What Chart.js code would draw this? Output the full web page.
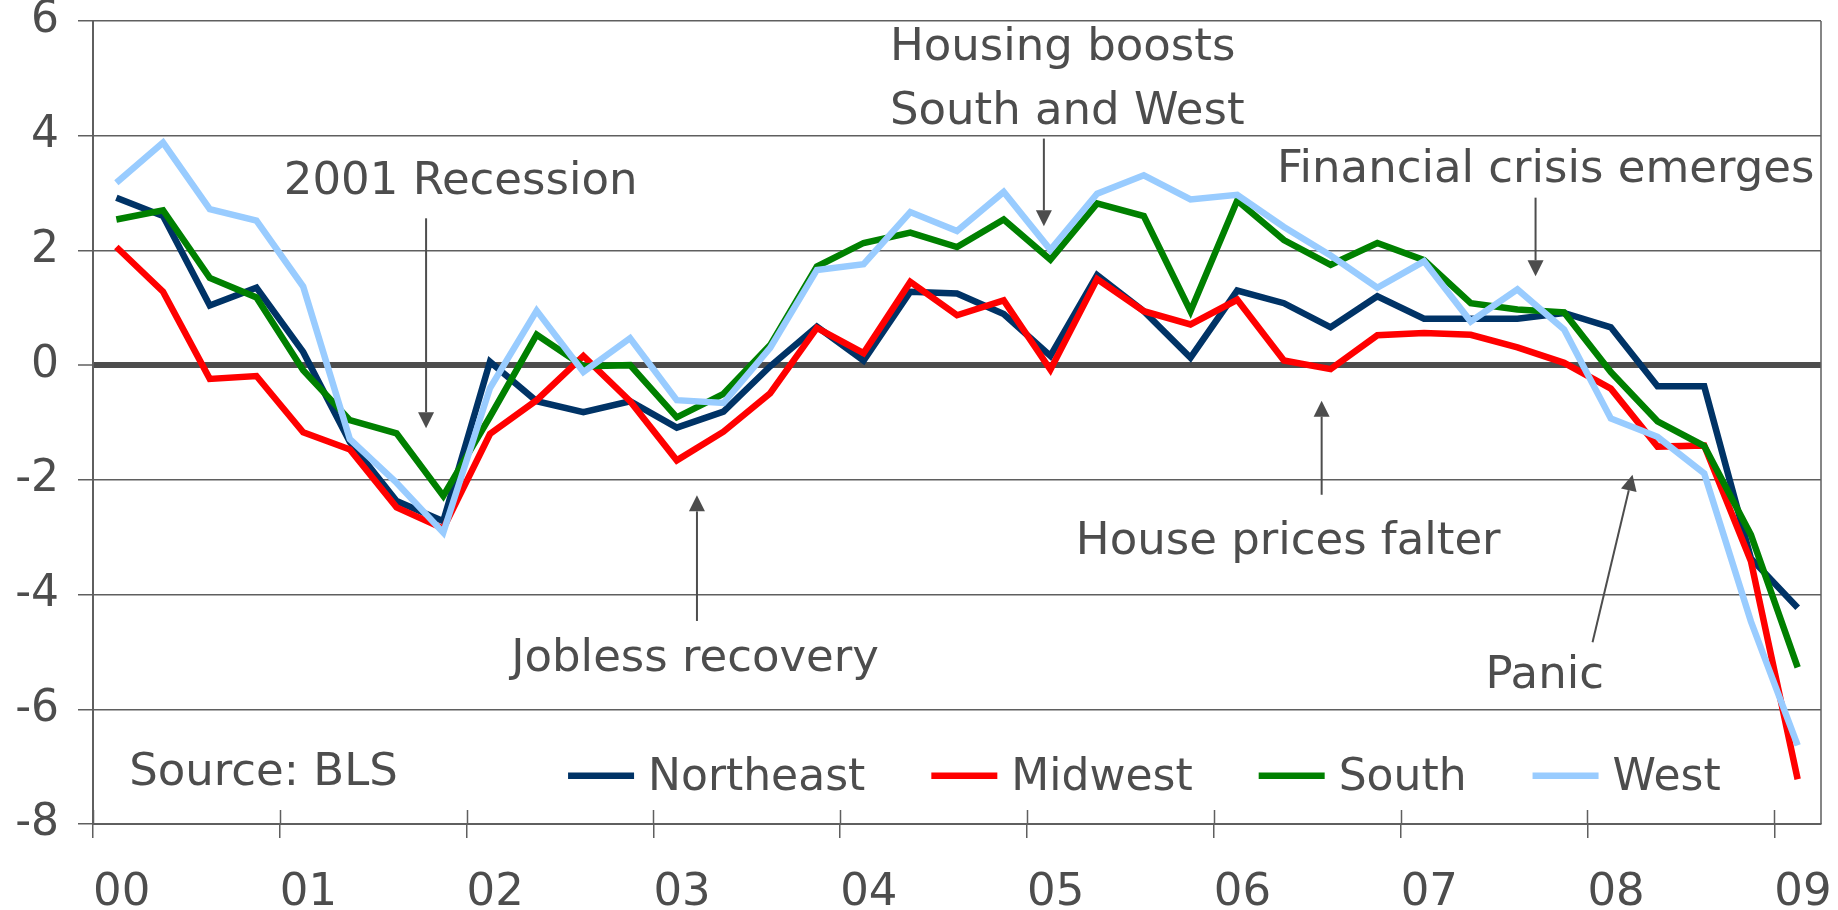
<!DOCTYPE html>
<html>
<head>
<meta charset="utf-8">
<title>Payroll employment by region</title>
<script src="https://cdn.jsdelivr.net/npm/chart.js@4.4.1/dist/chart.umd.min.js"></script>
<style>
  html, body { margin: 0; padding: 0; background: #fff; }
  #wrap { width: 1838px; height: 910px; position: relative; }
</style>
</head>
<body>
<div id="wrap"><canvas id="regionChart"></canvas></div>
<script>
// Payroll employment growth by region, quarterly (%)
const quarters = [
  '2000Q1', '2000Q2', '2000Q3', '2000Q4', '2001Q1', '2001Q2', '2001Q3', '2001Q4',
  '2002Q1', '2002Q2', '2002Q3', '2002Q4', '2003Q1', '2003Q2', '2003Q3', '2003Q4',
  '2004Q1', '2004Q2', '2004Q3', '2004Q4', '2005Q1', '2005Q2', '2005Q3', '2005Q4',
  '2006Q1', '2006Q2', '2006Q3', '2006Q4', '2007Q1', '2007Q2', '2007Q3', '2007Q4',
  '2008Q1', '2008Q2', '2008Q3', '2008Q4', '2009Q1'
];
const yearLabels = ['00', '01', '02', '03', '04', '05', '06', '07', '08', '09'];

const northeast = [
  2.92, 2.60, 1.04, 1.35, 0.23, -1.34, -2.37, -2.72,
  0.06, -0.63, -0.82, -0.63, -1.09, -0.81, -0.02, 0.67,
  0.08, 1.28, 1.25, 0.89, 0.16, 1.57, 0.94, 0.13,
  1.30, 1.08, 0.66, 1.20, 0.81, 0.81, 0.81, 0.91,
  0.66, -0.37, -0.37, -3.37, -4.23
];
const midwest = [
  2.06, 1.28, -0.24, -0.19, -1.17, -1.47, -2.48, -2.85,
  -1.20, -0.61, 0.16, -0.63, -1.66, -1.16, -0.49, 0.65,
  0.21, 1.45, 0.87, 1.13, -0.08, 1.50, 0.94, 0.71,
  1.14, 0.08, -0.07, 0.52, 0.56, 0.53, 0.31, 0.04,
  -0.41, -1.42, -1.40, -3.42, -7.22
];
const south = [
  2.54, 2.70, 1.52, 1.18, -0.09, -0.96, -1.19, -2.28,
  -0.90, 0.53, -0.02, 0.00, -0.91, -0.50, 0.35, 1.72,
  2.13, 2.31, 2.06, 2.54, 1.84, 2.82, 2.60, 0.94,
  2.87, 2.18, 1.75, 2.13, 1.83, 1.08, 0.97, 0.92,
  -0.12, -0.98, -1.41, -2.96, -5.27
];
const west = [
  3.18, 3.88, 2.72, 2.52, 1.37, -1.29, -2.05, -2.92,
  -0.40, 0.95, -0.12, 0.47, -0.61, -0.66, 0.30, 1.66,
  1.76, 2.67, 2.34, 3.02, 2.01, 2.99, 3.31, 2.89,
  2.97, 2.41, 1.91, 1.35, 1.81, 0.76, 1.32, 0.62,
  -0.93, -1.25, -1.89, -4.47, -6.63
];

// text notes and arrows, placed in chart units (years since 2000, %)
const notes = [
  { lines: ['2001 Recession'], x: 1.968, y: 2.98, align: 'center' },
  { lines: ['Jobless recovery'], x: 3.223, y: -5.33, align: 'center' },
  { lines: ['Housing boosts', 'South and West'], x: 4.266, y: 5.32, align: 'left' },
  { lines: ['Financial crisis emerges'], x: 7.776, y: 3.20, align: 'center' },
  { lines: ['House prices falter'], x: 6.398, y: -3.30, align: 'center' },
  { lines: ['Panic'], x: 7.771, y: -5.63, align: 'center' },
  { lines: ['Source: BLS'], x: 0.194, y: -7.32, align: 'left' }
];
const arrows = [
  { from: [1.783, 2.56], to: [1.783, -1.10] },
  { from: [3.233, -4.46], to: [3.233, -2.27] },
  { from: [5.090, 3.95], to: [5.090, 2.42] },
  { from: [7.722, 2.92], to: [7.722, 1.55] },
  { from: [6.577, -2.26], to: [6.577, -0.62] },
  { from: [8.027, -4.83], to: [8.241, -1.91] }
];

const textColor = '#4d4d4d';
const gridColor = '#5f5f5f';
const fontFamily = '"DejaVu Sans", Verdana, sans-serif';

Chart.defaults.font.family = fontFamily;
Chart.defaults.color = textColor;

// quarter label -> position in years after 2000 (middle of the quarter)
const quarterPos = quarters.map(q => Number(q.slice(0, 4)) - 2000 + (Number(q.slice(5)) - 0.5) / 4);
const toPoints = values => values.map((v, i) => ({ x: quarterPos[i], y: v }));

const decorations = {
  id: 'decorations',
  beforeDatasetsDraw(chart) {
    const { ctx, chartArea: a, scales: { x } } = chart;
    ctx.save();
    ctx.strokeStyle = gridColor;
    ctx.lineWidth = 1.5;
    ctx.beginPath();
    ctx.moveTo(a.right, a.top);
    ctx.lineTo(a.right, a.bottom);
    // year ticks also poke up into the plot
    x.ticks.forEach(t => {
      const px = Math.round(x.getPixelForValue(t.value)) + 0.5;
      ctx.moveTo(px, a.bottom);
      ctx.lineTo(px, a.bottom - 14);
    });
    ctx.stroke();
    ctx.restore();
  },
  afterDatasetsDraw(chart) {
    const { ctx, scales: { x, y } } = chart;
    ctx.save();

    // arrows
    ctx.strokeStyle = textColor;
    ctx.fillStyle = textColor;
    ctx.lineWidth = 2;
    arrows.forEach(ar => {
      const x1 = x.getPixelForValue(ar.from[0]), y1 = y.getPixelForValue(ar.from[1]);
      const x2 = x.getPixelForValue(ar.to[0]), y2 = y.getPixelForValue(ar.to[1]);
      const ang = Math.atan2(y2 - y1, x2 - x1);
      const headLen = 16, headHalf = 8;
      ctx.beginPath();
      ctx.moveTo(x1, y1);
      ctx.lineTo(x2 - Math.cos(ang) * headLen, y2 - Math.sin(ang) * headLen);
      ctx.stroke();
      ctx.beginPath();
      ctx.moveTo(x2, y2);
      ctx.lineTo(x2 - Math.cos(ang) * headLen - Math.sin(ang) * headHalf, y2 - Math.sin(ang) * headLen + Math.cos(ang) * headHalf);
      ctx.lineTo(x2 - Math.cos(ang) * headLen + Math.sin(ang) * headHalf, y2 - Math.sin(ang) * headLen - Math.cos(ang) * headHalf);
      ctx.closePath();
      ctx.fill();
    });

    // notes
    ctx.font = '45px ' + fontFamily;
    ctx.textBaseline = 'alphabetic';
    notes.forEach(n => {
      ctx.textAlign = n.align;
      const px = x.getPixelForValue(n.x);
      const py = y.getPixelForValue(n.y);
      n.lines.forEach((line, i) => ctx.fillText(line, px, py + i * 64));
    });

    // legend, inside the plot along the bottom
    ctx.font = '44px ' + fontFamily;
    ctx.textAlign = 'left';
    ctx.textBaseline = 'middle';
    let lx = x.getPixelForValue(2.543);
    const ly = y.getPixelForValue(-7.16);
    chart.data.datasets.forEach(ds => {
      ctx.strokeStyle = ds.borderColor;
      ctx.lineWidth = 6.5;
      ctx.beginPath();
      ctx.moveTo(lx, ly);
      ctx.lineTo(lx + 66, ly);
      ctx.stroke();
      ctx.fillStyle = textColor;
      ctx.fillText(ds.label, lx + 80, ly + 3);
      lx += 80 + ctx.measureText(ds.label).width + 66;
    });

    ctx.restore();
  }
};

const ctx = document.getElementById('regionChart').getContext('2d');
const regionChart = new Chart(ctx, {
  type: 'line',
  data: {
    datasets: [
      { label: 'Northeast', data: toPoints(northeast), borderColor: '#003366', borderWidth: 6.5, order: 4 },
      { label: 'Midwest', data: toPoints(midwest), borderColor: '#ff0000', borderWidth: 6.5, order: 3 },
      { label: 'South', data: toPoints(south), borderColor: '#008000', borderWidth: 6.5, order: 2 },
      { label: 'West', data: toPoints(west), borderColor: '#99ccff', borderWidth: 6.5, order: 1 }
    ]
  },
  options: {
    responsive: true,
    maintainAspectRatio: false,
    animation: false,
    devicePixelRatio: 1,
    layout: { padding: { top: 21, right: 17, left: 0, bottom: 0 } },
    elements: {
      point: { radius: 0, hoverRadius: 0 },
      line: { tension: 0, fill: false }
    },
    plugins: {
      legend: { display: false },
      tooltip: { enabled: false }
    },
    scales: {
      x: {
        type: 'linear',
        min: 0,
        max: 9.25,
        // one tick per year, no tick at the right edge
        afterBuildTicks: s => { s.ticks = yearLabels.map((lbl, i) => ({ value: i })); },
        afterFit: s => {
          s.height = 86;
          s.paddingLeft = 0;
          s.paddingRight = 0;
        },
        ticks: {
          stepSize: 1,
          align: 'start',
          padding: 28,
          maxRotation: 0,
          autoSkip: false,
          color: textColor,
          font: { size: 45 },
          callback: v => yearLabels[v]
        },
        grid: { drawOnChartArea: false, tickLength: 14, color: gridColor, lineWidth: 1.5 },
        border: { color: gridColor, width: 2 }
      },
      y: {
        min: -8,
        max: 6,
        afterFit: s => {
          s.width = 93;
          s.paddingTop = 0;
          s.paddingBottom = 0;
        },
        ticks: {
          stepSize: 2,
          padding: 19,
          color: textColor,
          font: { size: 44, lineHeight: 1 }
        },
        grid: {
          color: c => c.tick && c.tick.value === 0 ? '#4d4d4d' : gridColor,
          lineWidth: c => c.tick && c.tick.value === 0 ? 6 : 1.5,
          tickLength: 15,
          tickColor: gridColor,
          tickWidth: 1.5
        },
        border: { color: gridColor, width: 2 }
      }
    }
  },
  plugins: [decorations]
});
</script>
</body>
</html>
